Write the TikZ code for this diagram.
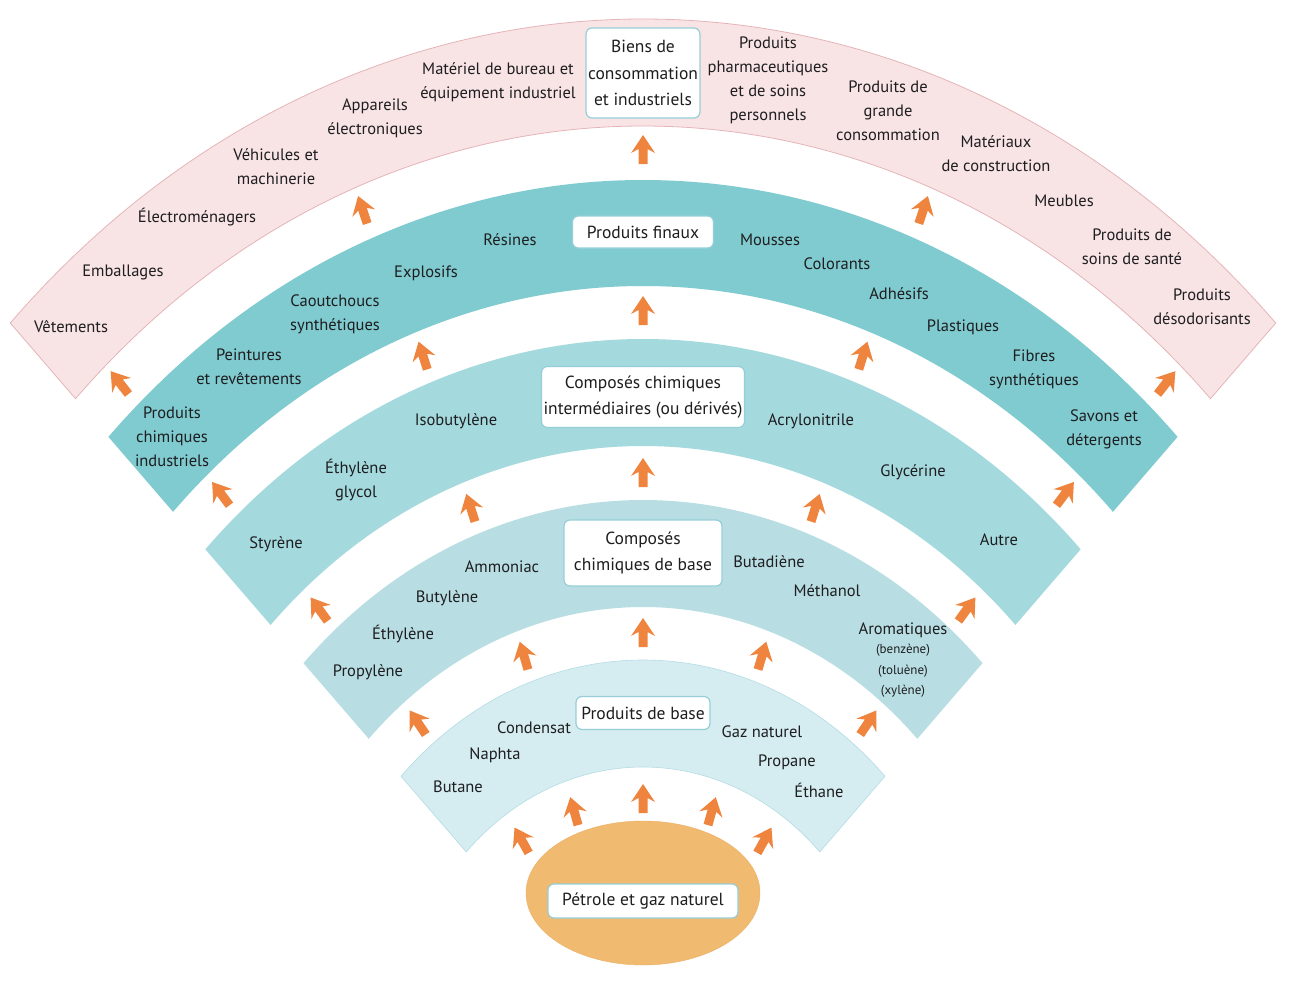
\documentclass[tikz,border=0pt]{standalone}
\usepackage{fontspec}
\setmainfont{PT Sans}
\usetikzlibrary{shapes,arrows,positioning}

\definecolor{inkc}{RGB}{30,30,32}
\definecolor{pinkc}{RGB}{249,228,229}
\definecolor{pinkline}{RGB}{229,180,184}
\definecolor{finalc}{RGB}{128,203,208}
\definecolor{interc}{RGB}{164,217,222}
\definecolor{basechemc}{RGB}{184,222,227}
\definecolor{basec}{RGB}{213,237,241}
\definecolor{baseline}{RGB}{180,220,228}
\definecolor{oilc}{RGB}{240,186,112}
\definecolor{oilline}{RGB}{236,176,100}
\definecolor{arrowc}{RGB}{238,132,62}
\definecolor{hubline}{RGB}{150,206,216}

% annular sector between two radii, 45 to 135 degrees
\newcommand{\ringband}[3]{%
  \fill[#3] (45:#2) arc[start angle=45,end angle=135,radius=#2]
    -- (135:#1) arc[start angle=135,end angle=45,radius=#1] -- cycle;}

\begin{document}
\begin{tikzpicture}[x=1pt,y=-1pt,
  every node/.style={text=inkc},
  lbl/.style={align=center,font=\fontsize{16.5}{24}\selectfont,inner sep=0pt},
  sublbl/.style={align=center,font=\fontsize{13}{20.5}\selectfont,inner sep=0pt},
  hub/.style={draw=hubline,fill=white,rounded corners=6pt,line width=1.2pt,
    align=center,font=\fontsize{17.5}{26.5}\selectfont,inner sep=2pt},
  flowarrow/.pic={\fill[arrowc] (15,0) -- (-3,12) -- (1,4.5) -- (-14,4.5)
    -- (-14,-4.5) -- (1,-4.5) -- (-3,-12) -- cycle;}]

  \fill[white] (0,0) rectangle (1291,985);
  \useasboundingbox (0,0) rectangle (1291,985);

  % the five layers
  \begin{scope}[shift={(643,1057)},x=0.862pt,y=1pt]
    \ringband{931}{1038}{pinkc,draw=pinkline,line width=0.8pt}
    \ringband{771}{877}{finalc}
    \ringband{611}{718}{interc}
    \ringband{450}{557}{basechemc}
    \ringband{290}{397}{basec,draw=baseline,line width=0.6pt}
  \end{scope}

  % source
  \node[ellipse,fill=oilc,draw=oilline,minimum width=234,minimum height=144] (source) at (643,893) {};
  \node[hub,minimum width=190,minimum height=34] (petrole) at (643,901) {Pétrole et gaz naturel};

  % flow arrows between layers
  \foreach \r/\angs in {258/{57,72,90,108,123},424/{52,71,90,109,128},
      584/{50,70,90,110,130},746/{49,70,90,110,131},907/{48,69,90,111,132}}{
    \foreach \a in \angs
      \pic[rotate={atan2(sin(\a),0.862*cos(\a))}] at ({643+0.862*\r*cos(\a)},{1057-\r*sin(\a)}) {flowarrow};
  }

  % produits de base
  \node[hub,minimum width=134,minimum height=33] (prodbase) at (643,713) {Produits de base};
  \node[lbl] (butane) at (458,787) {Butane};
  \node[lbl] (naphta) at (495,755) {Naphta};
  \node[lbl] (condensat) at (534,728) {Condensat};
  \node[lbl] (gaznat) at (762,732) {Gaz naturel};
  \node[lbl] (propane) at (787,762) {Propane};
  \node[lbl] (ethane) at (819,790) {Éthane};

  % composes chimiques de base
  \node[hub,minimum width=158,minimum height=66] (chimbase) at (643,553) {Composés\\chimiques de base};
  \node[lbl] (propylene) at (368,672) {Propylène};
  \node[lbl] (ethylene) at (403,634) {Éthylène};
  \node[lbl] (butylene) at (447,598) {Butylène};
  \node[lbl] (ammoniac) at (502,567) {Ammoniac};
  \node[lbl] (butadiene) at (769,562) {Butadiène};
  \node[lbl] (methanol) at (827,591) {Méthanol};
  \node[lbl] (aromatiques) at (903,630) {Aromatiques};
  \node[sublbl] (aromsub) at (903,671) {(benzène)\\(toluène)\\(xylène)};

  % composes intermediaires
  \node[hub,minimum width=203,minimum height=61] (intermed) at (643,397) {Composés chimiques\\intermédiaires (ou dérivés)};
  \node[lbl] (styrene) at (276,544) {Styrène};
  \node[lbl] (glycol) at (356,480) {Éthylène\\glycol};
  \node[lbl] (isobutylene) at (456,421) {Isobutylène};
  \node[lbl] (acrylo) at (811,421) {Acrylonitrile};
  \node[lbl] (glycerine) at (913,472) {Glycérine};
  \node[lbl] (autre) at (999,540) {Autre};

  % produits finaux
  \node[hub,minimum width=141,minimum height=32] (finaux) at (643,232) {Produits finaux};
  \node[lbl] (industriels) at (172,437) {Produits\\chimiques\\industriels};
  \node[lbl] (peintures) at (249,367) {Peintures\\et revêtements};
  \node[lbl] (caoutchoucs) at (335,314) {Caoutchoucs\\synthétiques};
  \node[lbl] (explosifs) at (426,273) {Explosifs};
  \node[lbl] (resines) at (510,240) {Résines};
  \node[lbl] (mousses) at (770,240) {Mousses};
  \node[lbl] (colorants) at (837,264) {Colorants};
  \node[lbl] (adhesifs) at (899,294) {Adhésifs};
  \node[lbl] (plastiques) at (963,327) {Plastiques};
  \node[lbl] (fibres) at (1034,369) {Fibres\\synthétiques};
  \node[lbl] (savons) at (1104,429) {Savons et\\détergents};

  % biens de consommation et industriels
  \node[hub,minimum width=112,minimum height=90] (biens) at (643,73) {Biens de\\consommation\\et industriels};
  \node[lbl] (vetements) at (71,327) {Vêtements};
  \node[lbl] (emballages) at (123,272) {Emballages};
  \node[lbl] (electro) at (197,217) {Électroménagers};
  \node[lbl] (vehicules) at (276,167) {Véhicules et\\machinerie};
  \node[lbl] (appareils) at (375,118) {Appareils\\électroniques};
  \node[lbl] (materiel) at (498,82) {Matériel de bureau et\\équipement industriel};
  \node[lbl] (pharma) at (768,80) {Produits\\pharmaceutiques\\et de soins\\personnels};
  \node[lbl] (grande) at (888,111) {Produits de\\grande\\consommation};
  \node[lbl] (materiaux) at (996,154) {Matériaux\\de construction};
  \node[lbl] (meubles) at (1064,201) {Meubles};
  \node[lbl] (sante) at (1132,247) {Produits de\\soins de santé};
  \node[lbl] (desodo) at (1202,307) {Produits\\désodorisants};
\end{tikzpicture}
\end{document}
